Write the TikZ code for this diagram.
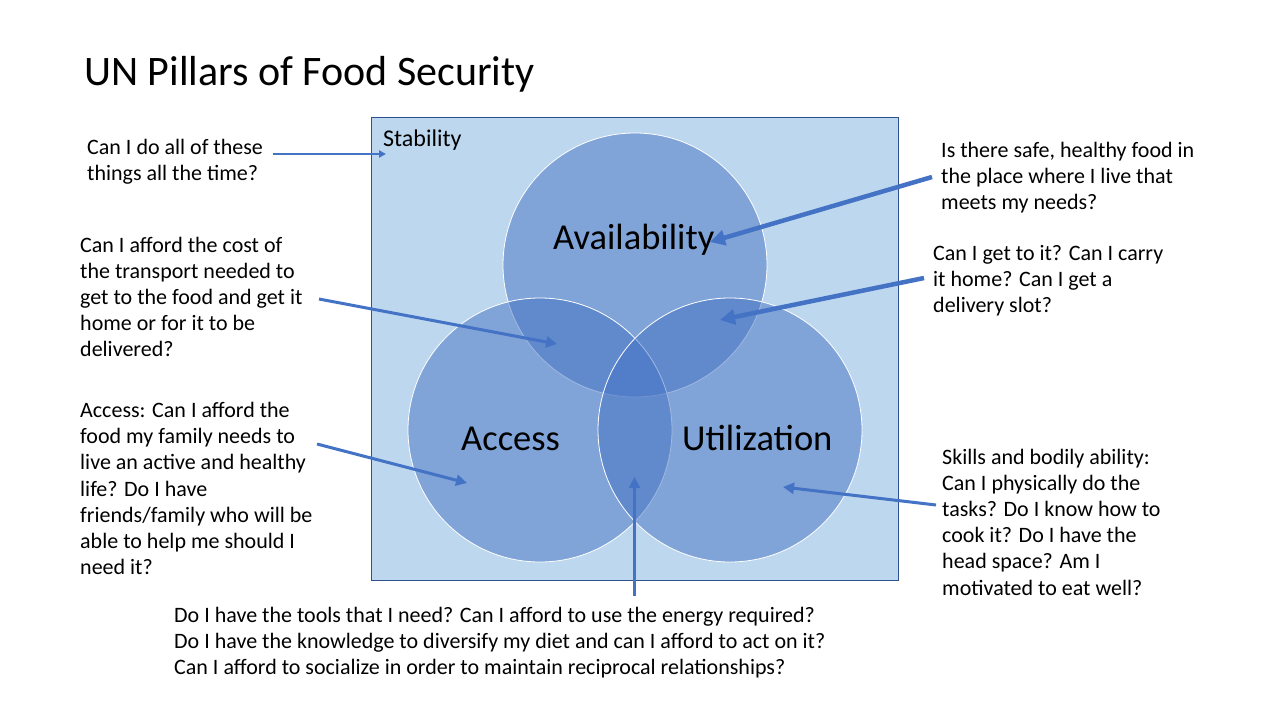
\documentclass[tikz,border=0pt]{standalone}
\usepackage{fontspec}
\setmainfont{Carlito}
\usetikzlibrary{arrows.meta}
\definecolor{accent}{HTML}{4472C4}
\definecolor{pale}{HTML}{BDD7EE}
\definecolor{framec}{HTML}{2F528F}
\begin{document}
\begin{tikzpicture}[x=1pt,y=-1pt,
  body/.style={font=\fontsize{22}{26.2}\selectfont, align=left, anchor=base west, inner sep=0pt},
  pillar/.style={circle, minimum size=264pt, inner sep=0pt, fill=accent, fill opacity=0.5, draw=white, draw opacity=1, line width=0.8pt},
  pillarname/.style={font=\fontsize{36.5}{42}\selectfont, anchor=base west, inner sep=0pt},
  thick arr/.style={draw=accent, line width=4.5pt, -{Triangle[length=15pt,width=15pt]}},
  mid arr/.style={draw=accent, line width=3pt, -{Triangle[length=11pt,width=11pt]}},
  thin arr/.style={draw=accent, line width=2pt, -{Triangle[length=7pt,width=7pt]}}]
\useasboundingbox (0,0) rectangle (1280,720);
\fill[white] (0,0) rectangle (1280,720);

% title
\node[font=\fontsize{42}{50}\selectfont, anchor=base west, inner sep=0pt] (title) at (84,85) {UN Pillars of Food Security};

% stability square
\node[draw=framec, fill=pale, line width=1.2pt, minimum width=527pt, minimum height=463pt, inner sep=0pt] (square) at (635,349) {};
\node[font=\fontsize{24}{28}\selectfont, anchor=base west, inner sep=0pt] (stab) at (383,146.5) {Stability};

% pillars
\node[pillar] (avail) at (635,265) {};
\node[pillar] (access) at (540,430) {};
\node[pillar] (util) at (730,430) {};
\node[pillarname] (availname) at (553,249) {Availability};
\node[pillarname] (accessname) at (461,450) {Access};
\node[pillarname] (utilname) at (682,450) {Utilization};

% questions (anchor = baseline of last line)
\node[body] (stabq) at (87,180.2) {Can I do all of these\\things all the time?};
\node[body] (transq) at (80,356.8) {Can I afford the cost of\\the transport needed to\\get to the food and get it\\home or for it to be\\delivered?};
\node[body] (accq) at (80,574.7) {Access: Can I afford the\\food my family needs to\\live an active and healthy\\life? Do I have\\friends/family who will be\\able to help me should I\\need it?};
\node[body] (availq) at (941,209.4) {Is there safe, healthy food in\\the place where I live that\\meets my needs?};
\node[body] (getq) at (933,312.4) {Can I get to it? Can I carry\\it home? Can I get a\\delivery slot?};
\node[body] (skillq) at (942,595) {Skills and bodily ability:\\Can I physically do the\\tasks? Do I know how to\\cook it? Do I have the\\head space? Am I\\motivated to eat well?};
\node[body] (bottomq) at (174,674.4) {Do I have the tools that I need? Can I afford to use the energy required?\\Do I have the knowledge to diversify my diet and can I afford to act on it?\\Can I afford to socialize in order to maintain reciprocal relationships?};

% arrow ends
\coordinate (s1) at (273,154);  \coordinate (e1) at (386,154);
\coordinate (s2) at (319,299);  \coordinate (e2) at (557,344);
\coordinate (s3) at (317,444);  \coordinate (e3) at (467,483);
\coordinate (s4) at (932,177);  \coordinate (e4) at (710,242);
\coordinate (s5) at (924,278);  \coordinate (e5) at (720,320);
\coordinate (s6) at (936,505);  \coordinate (e6) at (783,487);
\coordinate (s7) at (634.5,596); \coordinate (e7) at (634.5,477);

\draw[thin arr] (s1) -- (e1);
\draw[mid arr] (s2) -- (e2);
\draw[mid arr] (s3) -- (e3);
\draw[thick arr] (s4) -- (e4);
\draw[thick arr] (s5) -- (e5);
\draw[mid arr] (s6) -- (e6);
\draw[mid arr] (s7) -- (e7);
\end{tikzpicture}
\end{document}
